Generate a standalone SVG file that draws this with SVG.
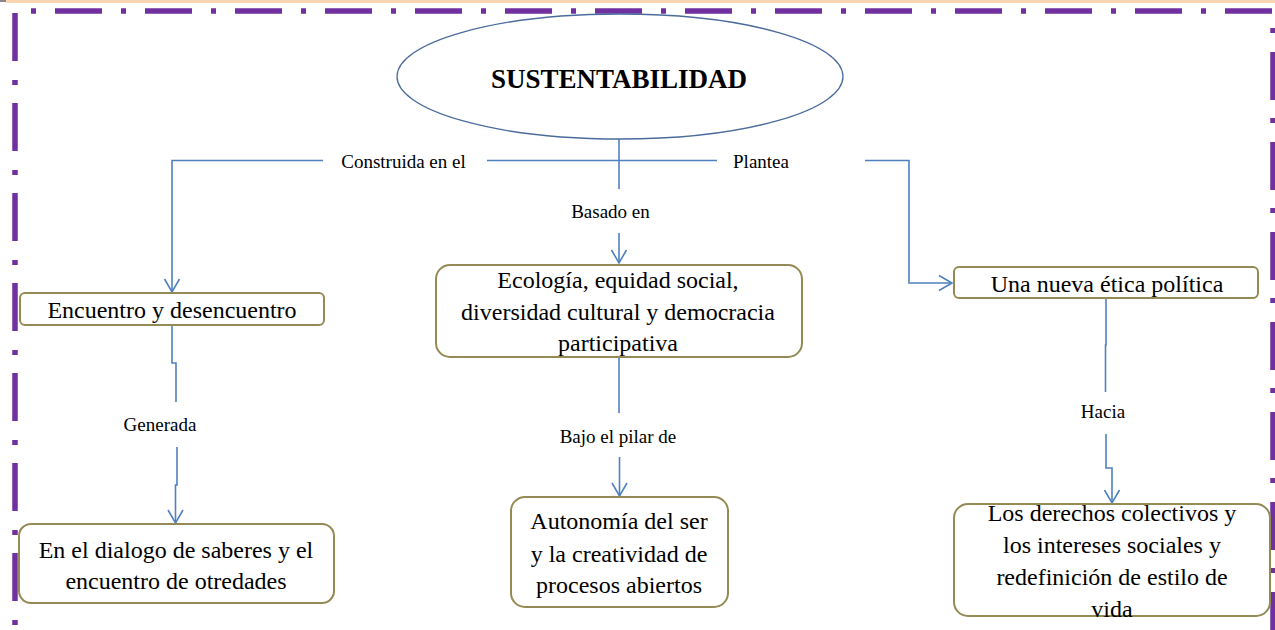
<svg xmlns="http://www.w3.org/2000/svg" width="1275" height="630" viewBox="0 0 1275 630">
<style>
.bd{stroke:#7030a0;stroke-width:5.5;fill:none}
.cn{stroke:#4f81bd;stroke-width:1.6;fill:none}
.bx{fill:#ffffff;stroke:#948a54;stroke-width:2}
.t{font-family:"Liberation Serif","Times New Roman",serif;fill:#000;text-anchor:middle}
.b{font-size:24px}
.l{font-size:19px}
</style>
<defs>
<marker id="arr" markerUnits="userSpaceOnUse" markerWidth="20" markerHeight="20" viewBox="-14 -10 16 20" refX="0" refY="0" orient="auto">
<path d="M-13,-7.5 L0,0 L-13,7.5" fill="none" stroke="#4f81bd" stroke-width="1.6"/>
</marker>
</defs>
<rect width="1275" height="630" fill="#ffffff"/>
<g id="border">
<rect x="6" y="0" width="1269" height="3" fill="#fbd4b4"/>
<rect x="0" y="0" width="6" height="2" fill="#888"/>
<line class="bd" x1="31" y1="11" x2="1275" y2="11" stroke-dasharray="5 19 47 19"/>
<line class="bd" x1="15" y1="13" x2="15" y2="630" stroke-width="6" stroke-dasharray="48 19 5 18"/>
<line class="bd" x1="1273" y1="28" x2="1273" y2="630" stroke-dasharray="5 19 48 18"/>
</g>
<g id="connectors">
<path class="cn" d="M323,160.5 H172 V292" marker-end="url(#arr)"/>
<path class="cn" d="M487,160.5 H717"/>
<path class="cn" d="M619,139 V189"/>
<path class="cn" d="M865,160.5 H909 V283 H952" marker-end="url(#arr)"/>
<path class="cn" d="M619,233 V263" marker-end="url(#arr)"/>
<path class="cn" d="M172,325 V363 H176 V402"/>
<path class="cn" d="M177,447 V485 H175.5 V523" marker-end="url(#arr)"/>
<path class="cn" d="M619,357 V413"/>
<path class="cn" d="M619.5,457 V496" marker-end="url(#arr)"/>
<path class="cn" d="M1106,298 V345 H1105.5 V392"/>
<path class="cn" d="M1106,434 V468 H1112 V503" marker-end="url(#arr)"/>
<text class="t l" x="403.5" y="168">Construida en el</text>
<text class="t l" x="761" y="168">Plantea</text>
<text class="t l" x="610.5" y="218">Basado en</text>
<text class="t l" x="160" y="431">Generada</text>
<text class="t l" x="618" y="443">Bajo el pilar de</text>
<text class="t l" x="1103" y="418">Hacia</text>
</g>
<g id="n-sustentabilidad">
<ellipse cx="620" cy="76.5" rx="223" ry="62.5" fill="#ffffff" stroke="#4a6b9c" stroke-width="1.3"/>
<text class="t" x="619" y="88" font-size="27" font-weight="bold">SUSTENTABILIDAD</text>
</g>
<g id="n-encuentro">
<rect class="bx" x="20" y="293" width="304" height="32" rx="5"/>
<text class="t b" x="172" y="318">Encuentro y desencuentro</text>
</g>
<g id="n-dialogo">
<rect class="bx" x="19" y="524" width="315" height="79" rx="12"/>
<text class="t b" x="176" y="558">En el dialogo de saberes y el</text>
<text class="t b" x="176" y="589">encuentro de otredades</text>
</g>
<g id="n-ecologia">
<rect class="bx" x="436" y="265" width="366" height="92" rx="14"/>
<text class="t b" x="618" y="288">Ecología, equidad social,</text>
<text class="t b" x="618" y="320">diversidad cultural y democracia</text>
<text class="t b" x="618" y="351">participativa</text>
</g>
<g id="n-autonomia">
<rect class="bx" x="511" y="497" width="217" height="110" rx="14"/>
<text class="t b" x="619" y="529">Autonomía del ser</text>
<text class="t b" x="619" y="562">y la creatividad de</text>
<text class="t b" x="619" y="593">procesos abiertos</text>
</g>
<g id="n-etica">
<rect class="bx" x="954" y="267" width="304" height="31" rx="5"/>
<text class="t b" x="1107" y="292">Una nueva ética política</text>
</g>
<g id="n-derechos">
<rect class="bx" x="954" y="504" width="316" height="112" rx="14"/>
<text class="t b" x="1112" y="521">Los derechos colectivos y</text>
<text class="t b" x="1112" y="553">los intereses sociales y</text>
<text class="t b" x="1112" y="585">redefinición de estilo de</text>
<text class="t b" x="1112" y="617">vida</text>
</g>
</svg>
